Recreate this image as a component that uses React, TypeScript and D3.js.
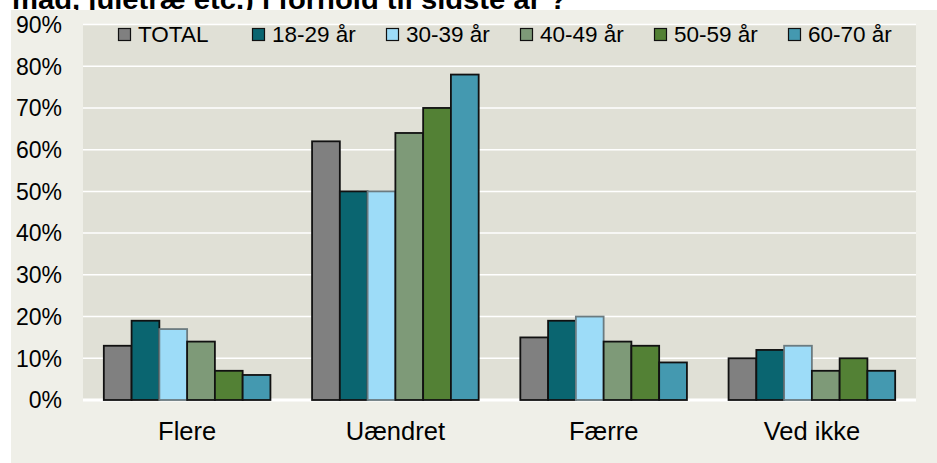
import React, { useRef, useEffect } from "react";
import * as d3 from "d3";

// Data
const categories = ["Flere", "Uændret", "Færre", "Ved ikke"];
const seriesNames = ["TOTAL", "18-29 år", "30-39 år", "40-49 år", "50-59 år", "60-70 år"];
const seriesColors = ["#808080", "#0A6570", "#9DDCF8", "#7E9A78", "#538135", "#4499B0"];
const total = [13, 62, 15, 10];
const age1829 = [19, 50, 19, 12];
const age3039 = [17, 50, 20, 13];
const age4049 = [14, 64, 14, 7];
const age5059 = [7, 70, 13, 10];
const age6070 = [6, 78, 9, 7];
const yTicks = [0, 10, 20, 30, 40, 50, 60, 70, 80, 90];
const title = "mad, juletræ etc.) i forhold til sidste år ?";

const App: React.FC = () => {
  const chartRef = useRef<SVGSVGElement | null>(null);

  useEffect(() => {
    if (!chartRef.current) return;
    const width = 937;
    const height = 463;
    const margin = { top: 24.5, right: 21, bottom: 63, left: 83 };
    const font = "'Liberation Sans', Arial, sans-serif";

    const series = [total, age1829, age3039, age4049, age5059, age6070];

    const svg = d3.select(chartRef.current);
    svg.selectAll("*").remove();
    svg.attr("width", width).attr("height", height);

    svg.append("rect").attr("width", width).attr("height", height).attr("fill", "#ffffff");

    // Title (cut off by the chart area, as in the source)
    svg
      .append("text")
      .attr("x", 12)
      .attr("y", 9)
      .attr("font-family", font)
      .attr("font-weight", "bold")
      .attr("font-size", 28)
      .attr("textLength", 555)
      .attr("lengthAdjust", "spacingAndGlyphs")
      .attr("fill", "#000")
      .text(title);

    // Chart area background
    svg
      .append("rect")
      .attr("x", 11)
      .attr("y", 10)
      .attr("width", width - 11)
      .attr("height", height - 10)
      .attr("fill", "#EFEFE8");

    const x0 = d3
      .scaleBand()
      .domain(categories)
      .range([margin.left, width - margin.right])
      .paddingInner(0.2)
      .paddingOuter(0.1);
    const x1 = d3
      .scaleBand()
      .domain(seriesNames)
      .range([0, x0.bandwidth()]);
    const y = d3
      .scaleLinear()
      .domain([0, 90])
      .range([height - margin.bottom, margin.top]);

    // Plot background
    svg
      .append("rect")
      .attr("x", margin.left)
      .attr("y", margin.top)
      .attr("width", width - margin.right - margin.left)
      .attr("height", y(0) - margin.top)
      .attr("fill", "#E0E0D6");

    // Gridlines
    svg
      .append("g")
      .selectAll("line")
      .data(yTicks)
      .join("line")
      .attr("x1", margin.left)
      .attr("x2", width - margin.right)
      .attr("y1", (d) => y(d))
      .attr("y2", (d) => y(d))
      .attr("stroke", "#ffffff")
      .attr("stroke-width", (d) => (d === 0 ? 3 : 1.5));

    // Y labels
    svg
      .append("g")
      .selectAll("text")
      .data(yTicks)
      .join("text")
      .attr("x", 62)
      .attr("y", (d) => y(d))
      .attr("dy", "0.36em")
      .attr("text-anchor", "end")
      .attr("font-family", font)
      .attr("font-size", 23)
      .attr("fill", "#000")
      .text((d) => `${d}%`);

    // Bars
    const groups = svg
      .append("g")
      .selectAll("g")
      .data(categories)
      .join("g")
      .attr("transform", (d) => `translate(${x0(d)},0)`);

    groups
      .selectAll("rect")
      .data((_d, ci) => seriesNames.map((s, si) => ({ s, si, v: series[si][ci] })))
      .join("rect")
      .attr("x", (d) => x1(d.s)!)
      .attr("y", (d) => y(d.v))
      .attr("width", x1.bandwidth())
      .attr("height", (d) => y(0) - y(d.v))
      .attr("fill", (d) => seriesColors[d.si])
      .attr("stroke", (d) => (d.si === 2 ? "#6b7b80" : "#111"))
      .attr("stroke-width", 1.8);

    // Category labels
    svg
      .append("g")
      .selectAll("text")
      .data(categories)
      .join("text")
      .attr("x", (d) => x0(d)! + x0.bandwidth() / 2)
      .attr("y", 440)
      .attr("text-anchor", "middle")
      .attr("font-family", font)
      .attr("font-size", 25.5)
      .attr("fill", "#000")
      .text((d) => d);

    // Legend
    const legend = svg
      .append("g")
      .selectAll("g")
      .data(seriesNames)
      .join("g")
      .attr("transform", (_d, i) => `translate(${118 + i * 134},0)`);
    legend
      .append("rect")
      .attr("x", 0.5)
      .attr("y", 28.5)
      .attr("width", 12)
      .attr("height", 12)
      .attr("fill", (_d, i) => seriesColors[i])
      .attr("stroke", "#111")
      .attr("stroke-width", 1.2);
    legend
      .append("text")
      .attr("x", 20)
      .attr("y", 41.5)
      .attr("font-family", font)
      .attr("font-size", 22.5)
      .attr("fill", "#000")
      .text((d) => d);
  }, []);

  return (
    <div style={{ position: "absolute", left: 0, top: 0 }}>
      <svg ref={chartRef} style={{ display: "block" }} />
    </div>
  );
};

export default App;
